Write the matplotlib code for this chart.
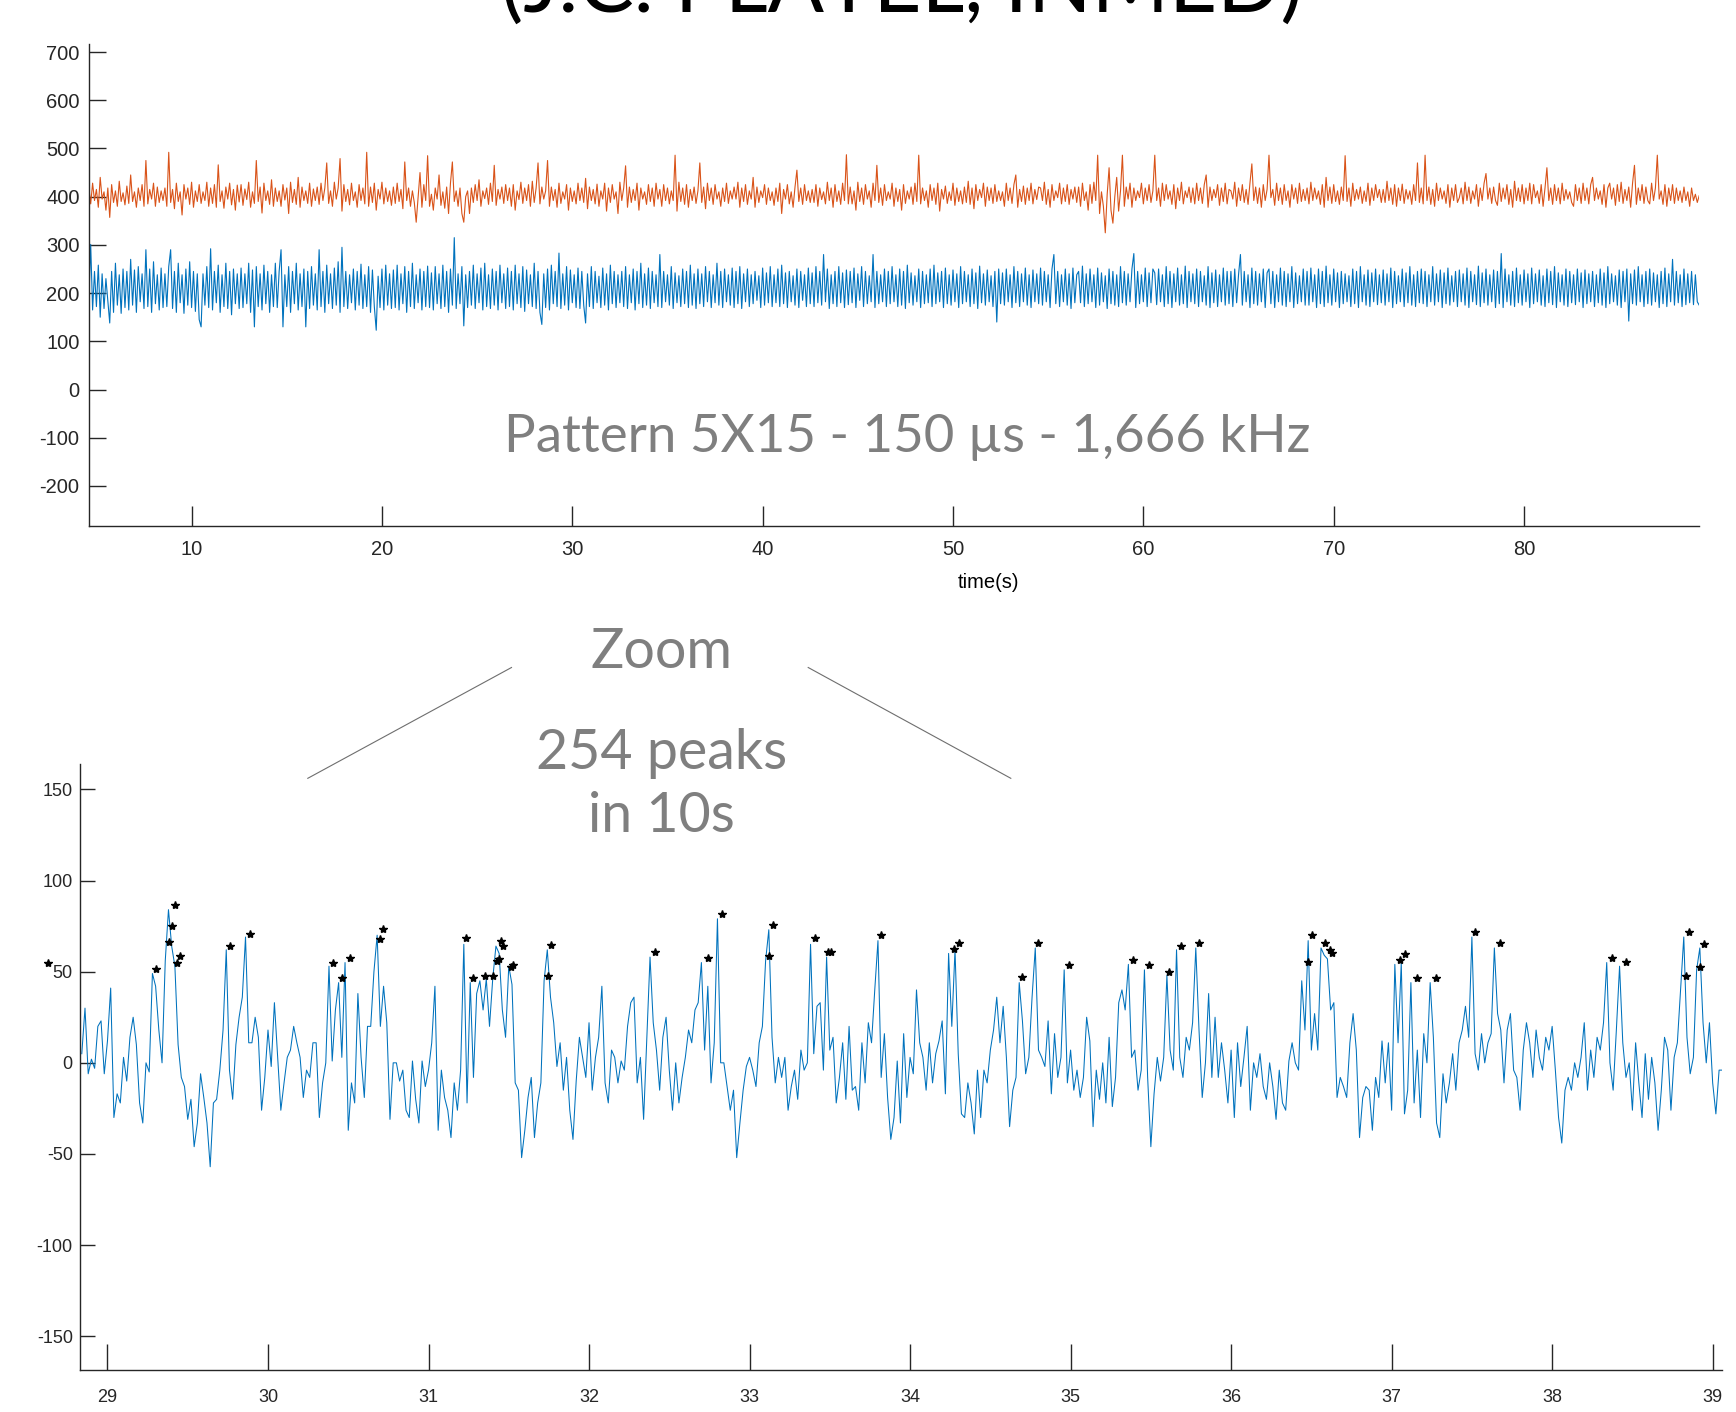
import matplotlib.pyplot as plt
import numpy as np
from matplotlib.lines import Line2D

# top panel: two channels, one value every 0.1 s starting at 4.6 s
top_start, top_step = 4.6, 0.1
orange_vals = [
    420, 385, 428, 392, 415, 378, 440, 395, 410, 372, 418, 357, 425, 388, 412, 380, 432, 390, 408, 383,
    422, 386, 445, 390, 410, 378, 418, 392, 425, 380, 475, 385, 415, 395, 428, 380, 420, 388, 412, 392,
    418, 380, 492, 388, 415, 375, 428, 390, 410, 362, 425, 395, 418, 384, 430, 378, 412, 390, 425, 386,
    410, 392, 430, 380, 418, 386, 425, 378, 466, 390, 412, 376, 420, 395, 428, 383, 415, 372, 424, 389,
    425, 382, 416, 394, 430, 378, 410, 386, 475, 390, 420, 366, 428, 392, 412, 384, 435, 380, 418, 390,
    412, 380, 425, 393, 418, 365, 430, 388, 415, 384, 440, 378, 420, 392, 412, 386, 428, 380, 416, 392,
    420, 384, 428, 392, 418, 470, 386, 412, 380, 430, 395, 418, 479, 370, 425, 390, 415, 383, 428, 392,
    410, 378, 425, 392, 418, 385, 492, 380, 420, 388, 428, 372, 415, 395, 430, 385, 418, 390, 412, 382,
    420, 386, 428, 390, 415, 375, 472, 392, 418, 380, 412, 388, 347, 400, 450, 378, 425, 392, 485, 380,
    405, 372, 418, 395, 445, 382, 410, 376, 420, 365, 428, 472, 390, 412, 380, 418, 365, 347, 400, 412,
    365, 418, 388, 425, 392, 435, 380, 412, 396, 418, 384, 428, 390, 465, 382, 415, 395, 420, 386, 425,
    392, 418, 380, 425, 372, 412, 394, 430, 386, 418, 392, 425, 380, 432, 388, 418, 470, 385, 420, 395,
    412, 475, 380, 420, 392, 415, 378, 428, 386, 410, 395, 425, 372, 418, 390, 412, 385, 428, 392, 418,
    388, 438, 375, 420, 392, 415, 385, 426, 380, 412, 395, 428, 370, 418, 388, 425, 395, 410, 365, 430,
    392, 418, 464, 378, 420, 388, 415, 392, 428, 372, 418, 395, 410, 384, 425, 390, 418, 380, 428, 395,
    415, 380, 425, 392, 418, 385, 412, 392, 486, 370, 430, 390, 418, 384, 425, 378, 415, 392, 420, 386,
    412, 470, 388, 420, 375, 428, 392, 418, 384, 425, 395, 410, 380, 418, 390, 428, 386, 412, 395, 420,
    395, 430, 378, 418, 390, 425, 384, 412, 395, 440, 378, 420, 388, 412, 398, 425, 384, 418, 392, 410,
    382, 418, 390, 428, 365, 415, 395, 425, 385, 410, 378, 420, 455, 390, 418, 384, 425, 392, 412, 388,
    415, 388, 425, 380, 418, 394, 410, 385, 430, 392, 418, 378, 425, 390, 412, 384, 428, 392, 487, 385,
    420, 385, 412, 372, 430, 390, 418, 384, 425, 395, 412, 378, 428, 392, 465, 388, 418, 382, 425, 392,
    410, 395, 428, 380, 418, 390, 415, 372, 425, 386, 412, 395, 420, 384, 428, 390, 486, 385, 418, 392,
    412, 378, 425, 392, 418, 384, 428, 370, 415, 395, 422, 386, 410, 392, 428, 382, 418, 390, 412, 385,
    420, 388, 432, 384, 418, 375, 425, 392, 415, 398, 428, 380, 420, 392, 418, 386, 425, 390, 412, 392,
    410, 380, 428, 392, 418, 386, 425, 445, 378, 415, 390, 422, 384, 418, 392, 428, 385, 415, 394, 420,
    418, 392, 430, 384, 415, 378, 425, 392, 412, 398, 428, 385, 418, 390, 425, 384, 415, 395, 420, 388,
    420, 380, 428, 392, 410, 372, 425, 386, 430, 392, 486, 365, 410, 380, 325, 405, 460, 372, 345, 400,
    440, 370, 412, 486, 380, 420, 395, 428, 378, 418, 392, 412, 398, 428, 385, 418, 392, 425, 388, 412,
    486, 392, 418, 380, 428, 392, 425, 395, 412, 384, 425, 375, 418, 392, 430, 385, 412, 398, 420, 388,
    418, 385, 428, 392, 418, 386, 425, 445, 378, 420, 392, 415, 398, 425, 382, 418, 390, 428, 385, 415,
    412, 395, 430, 380, 418, 392, 425, 388, 415, 384, 428, 468, 392, 420, 386, 418, 378, 425, 392, 415,
    486, 398, 415, 382, 428, 392, 418, 384, 425, 392, 412, 378, 425, 395, 418, 386, 428, 390, 415, 392,
    418, 385, 430, 392, 418, 395, 412, 384, 425, 378, 440, 392, 420, 386, 425, 390, 412, 384, 420, 392,
    485, 390, 418, 380, 428, 392, 415, 395, 420, 386, 412, 390, 428, 382, 418, 392, 425, 398, 415, 388,
    415, 388, 432, 392, 418, 384, 425, 380, 418, 392, 426, 386, 415, 395, 412, 384, 425, 392, 470, 388,
    418, 385, 486, 392, 420, 384, 415, 380, 428, 392, 418, 395, 412, 386, 425, 378, 418, 392, 425, 388,
    398, 418, 385, 430, 392, 420, 386, 412, 395, 425, 380, 418, 392, 428, 448, 395, 418, 386, 420, 392,
    382, 428, 390, 418, 395, 425, 384, 415, 378, 432, 392, 418, 390, 425, 385, 418, 392, 428, 385, 425,
    398, 412, 386, 425, 380, 418, 460, 392, 418, 384, 425, 392, 418, 385, 428, 392, 415, 395, 410, 388,
    380, 425, 392, 418, 386, 428, 392, 418, 385, 425, 440, 392, 418, 395, 412, 384, 425, 378, 418, 428,
    395, 418, 382, 425, 390, 430, 386, 415, 392, 420, 378, 428, 465, 384, 418, 392, 425, 386, 420, 392,
    385, 428, 392, 418, 486, 395, 412, 384, 425, 380, 418, 392, 425, 386, 418, 392, 412, 388, 420, 392,
    410, 380, 418, 392, 405, 388, 402,
]
blue_vals = [
    180, 301, 165, 245, 172, 258, 150, 240, 168, 230, 185, 138, 245, 160, 262, 175, 238, 158, 250, 170,
    245, 165, 270, 175, 248, 160, 255, 182, 240, 168, 290, 172, 250, 160, 265, 178, 238, 165, 252, 170,
    240, 172, 255, 290, 168, 245, 160, 262, 180, 238, 158, 250, 175, 265, 170, 245, 162, 240, 145, 130,
    240, 175, 255, 170, 292, 165, 245, 180, 258, 160, 238, 172, 262, 168, 245, 155, 250, 178, 240, 168,
    252, 170, 240, 178, 262, 160, 248, 130, 255, 172, 240, 165, 258, 178, 245, 160, 238, 172, 262, 170,
    245, 290, 130, 238, 172, 255, 160, 245, 178, 262, 165, 240, 172, 250, 130, 245, 168, 255, 175, 240,
    165, 290, 172, 245, 160, 258, 178, 240, 168, 252, 175, 265, 160, 295, 172, 245, 168, 238, 180, 250,
    165, 245, 175, 260, 168, 238, 172, 255, 160, 248, 172, 123, 235, 170, 250, 165, 258, 175, 240, 168,
    248, 170, 258, 165, 240, 178, 255, 160, 245, 172, 262, 168, 238, 180, 250, 165, 245, 172, 256, 170,
    242, 165, 255, 178, 240, 168, 258, 172, 245, 160, 250, 175, 315, 168, 240, 178, 255, 132, 238, 170,
    245, 175, 258, 168, 240, 180, 252, 165, 262, 172, 238, 168, 250, 175, 245, 165, 258, 180, 240, 168,
    252, 172, 245, 165, 258, 178, 240, 170, 255, 162, 248, 178, 238, 172, 262, 168, 245, 160, 135, 240,
    170, 250, 165, 258, 178, 245, 172, 283, 168, 240, 175, 255, 165, 248, 180, 238, 170, 252, 168, 245,
    175, 138, 240, 172, 255, 168, 245, 180, 235, 170, 252, 175, 240, 165, 258, 178, 245, 170, 238, 180,
    245, 172, 255, 168, 238, 180, 250, 165, 245, 178, 262, 170, 240, 175, 252, 168, 245, 180, 238, 172,
    280, 170, 245, 182, 238, 175, 255, 168, 242, 180, 236, 172, 250, 178, 245, 170, 258, 175, 240, 168,
    250, 178, 240, 172, 255, 182, 245, 170, 238, 180, 262, 175, 245, 170, 250, 182, 238, 175, 252, 170,
    245, 178, 255, 168, 240, 182, 250, 172, 238, 178, 245, 185, 236, 170, 252, 175, 242, 180, 255, 172,
    238, 180, 250, 172, 258, 178, 242, 170, 245, 182, 236, 175, 250, 170, 245, 185, 238, 172, 252, 178,
    242, 172, 255, 180, 245, 175, 280, 182, 250, 168, 238, 178, 245, 172, 255, 180, 242, 170, 248, 176,
    245, 180, 252, 170, 240, 185, 255, 172, 245, 178, 236, 182, 280, 170, 245, 178, 238, 182, 250, 172,
    245, 178, 255, 182, 238, 172, 250, 175, 245, 168, 258, 180, 242, 175, 236, 182, 250, 170, 245, 178,
    238, 180, 250, 172, 258, 178, 242, 182, 245, 170, 252, 178, 238, 175, 248, 182, 240, 170, 255, 178,
    245, 182, 238, 172, 250, 178, 242, 168, 256, 180, 240, 175, 248, 182, 236, 172, 245, 140, 250, 178,
    242, 175, 250, 182, 238, 170, 255, 180, 245, 172, 240, 182, 252, 175, 238, 170, 248, 182, 240, 178,
    252, 175, 245, 182, 238, 170, 250, 280, 178, 245, 172, 238, 182, 250, 175, 240, 168, 252, 180, 238,
    245, 180, 256, 172, 240, 178, 250, 182, 238, 170, 252, 175, 242, 182, 236, 168, 250, 178, 245, 175,
    238, 172, 255, 180, 245, 175, 240, 182, 250, 282, 170, 245, 178, 238, 182, 252, 172, 242, 180, 250,
    242, 176, 250, 182, 238, 172, 255, 178, 245, 170, 240, 182, 252, 175, 238, 178, 256, 170, 245, 182,
    240, 178, 250, 172, 245, 182, 236, 175, 255, 170, 242, 180, 248, 172, 238, 182, 252, 175, 245, 178,
    245, 172, 250, 180, 238, 280, 175, 245, 182, 238, 170, 252, 178, 245, 175, 240, 182, 250, 170, 242,
    250, 178, 245, 170, 238, 182, 252, 175, 245, 172, 240, 182, 255, 170, 242, 178, 236, 182, 250, 175,
    245, 175, 252, 182, 238, 170, 250, 178, 245, 172, 256, 180, 238, 175, 250, 182, 242, 170, 245, 178,
    240, 182, 236, 172, 250, 178, 245, 170, 255, 182, 238, 175, 248, 172, 242, 182, 250, 176, 238, 180,
    248, 175, 240, 182, 252, 170, 245, 178, 236, 182, 250, 172, 242, 180, 255, 175, 238, 172, 245, 180,
    250, 178, 245, 172, 238, 182, 255, 175, 240, 182, 248, 170, 242, 178, 252, 175, 236, 182, 245, 172,
    248, 182, 240, 175, 252, 170, 245, 182, 238, 176, 256, 172, 242, 180, 250, 175, 238, 182, 248, 170,
    245, 178, 282, 170, 250, 182, 238, 175, 245, 172, 252, 180, 238, 175, 248, 182, 240, 170, 252, 178,
    240, 182, 248, 175, 236, 172, 250, 180, 245, 176, 255, 170, 242, 182, 238, 175, 250, 172, 245, 180,
    238, 176, 250, 182, 242, 170, 248, 178, 240, 182, 245, 172, 238, 180, 250, 175, 242, 170, 255, 178,
    240, 182, 236, 175, 248, 170, 245, 182, 250, 142, 240, 178, 248, 175, 255, 182, 238, 172, 245, 178,
    250, 175, 242, 182, 238, 170, 245, 178, 252, 172, 240, 182, 270, 175, 245, 180, 238, 172, 250, 176,
    240, 180, 245, 176, 238, 182, 175,
]

# zoom panel: one value every 0.02 s starting at 28.84 s
zoom_start, zoom_step = 28.84, 0.02
zoom_vals = [
    5, 30, -6, 2, -3, 20, 23, -6, 12, 41,
    -30, -17, -22, 3, -10, 14, 25, 10, -22, -33,
    0, -5, 49, 42, 18, 0, 56, 84, 64, 53,
    10, -8, -13, -31, -20, -46, -33, -6, -19, -33,
    -57, -22, -20, -4, 18, 62, -4, -20, 10, 25,
    36, 69, 11, 11, 25, 14, -26, -8, 18, -2,
    33, 3, -26, -11, 3, 7, 20, 11, 3, -19,
    -4, -8, 11, 11, -30, -11, 0, 53, 1, 29,
    44, 3, 55, -37, -11, -22, 38, 3, -19, 20,
    20, 50, 70, 20, 42, 22, -31, 0, 0, -10,
    -4, -26, -30, 1, -20, -33, 1, -13, -4, 11,
    42, -37, -4, -19, -26, -41, -11, -26, -4, 65,
    -22, 44, -8, 38,
    45, 29, 46, 20, 46, 64,
    60, 29, 14, 53, 43, -11, -15, -52, -37, -19,
    -8, -41, -22, -11, 45, 62, 36, 22, -2, 11,
    -15, 3, -26, -42, -10, 14, 3, -8, 22, -15,
    3, 14, 42, -11, -22, 7, 3, -11, 1, -4,
    20, 33, 36, -11, 3, -31, 14, 58, 22, 7,
    -15, 14, 25, -4, -26, 0, -22, -8, 3, 18,
    11, 29, 33, 55, 7, 42, -11, 11, 79, 0,
    0, -13, -26, -15, -52, -33, -15, -2, 3, -4,
    -13, 11, 20, 56, 73, 14, -11, 3, -8, 3,
    -26, -13, -4, -20, 7, -4, 0, 65, 5, 31,
    33, -4, 58, 7, 14, -22, -8, 11, -20, 20,
    -15, -13, -26, 11, -11, 22, 11, 40, 67, -8,
    16, -19,
    -42, -30, 1, -33, 16, -19, 3, -6,
    40, 11, 3, -15, 11, -11, 5, 12, 23, -17,
    60, 20, 62, 5, -28, -30, -11, -22, -39, -4,
    -30, -4, -11, 7, 18, 36, 11, 31, 3, -35,
    -15, -8, 44, 23, -6, 3, 36, 63, 7, 3,
    -2, 23, -17, 16, -8, 3, 51, -11, 7, -15,
    -4, -19, -8, 25, 12, -35, -4, -20, 0, -22,
    14, -24, -8, 33, 40, 29, 54, 3, 7, -15,
    -4, 51, -8, -46, -17, 3, -10, 3, 48, 7,
    -4, 62, 3, -8, 14, 7, 22, 63, 18, -19,
    0, 38, -8, 25, -8, 11, -4, -22, 7, -30,
    11, -13, 3, 20, -26, 0, -8, 5, -13, -20,
    0, -13, -31, -4, -22, -26, 1, 11, 0, -4,
    45, 18, 67, 7, 27, 7, 63, 59, 57, 29,
    33, -19, -8, -13, -19, 11, 27, 7, -41, -19,
    -13, -15, -37, -8, -19, 12, -11, 11, -26, 54,
    11, 55, -28, -15, 44, -22, 7, -30, 16, 0,
    44, 14, -33, -41, -6, -22, -11, 5, -15, 11,
    18, 31, 14, 69, 5, -4, 16, 0, 11, 16,
    63, 27, 18, -11, 18, 27, -4, -8, -26, 7,
    22, 11, -8, 18, 3, -4, 14, 7, 20, -4,
    -30, -44, -15, -8, -15, 0, -8, 3, 22, -15,
    7, -8, 14, 7, 22, 55, 0, -15, 18, 53,
    11, -8, 0, -26, 11, -11, -30, 5, -20, 3,
    -11, -37, -15, 14, 7, -26, 3, 11, 40, 69,
    14, -6, 3, 51, 63, 22, 0, 22, -11, -28,
    -4, -4,
]

# detected peaks (stars)
peak_t = [28.63, 29.303, 29.386, 29.403, 29.421, 29.436, 29.452, 29.764, 29.889,
          30.408, 30.460, 30.512, 30.695, 30.715, 31.232, 31.280, 31.353,
          31.400, 31.425, 31.439, 31.450, 31.466, 31.514, 31.525, 31.747, 31.761,
          32.411, 32.740, 32.831, 33.124, 33.149, 33.408, 33.491, 33.508, 33.818,
          34.271, 34.306, 34.696, 34.794, 34.989, 35.386, 35.486, 35.612, 35.687,
          35.799, 36.482, 36.507, 36.582, 36.617, 36.631, 37.051, 37.082, 37.159,
          37.275, 37.520, 37.676, 38.374, 38.457, 38.833, 38.852, 38.924, 38.945]
peak_v = [55, 51.6, 66.2, 75.0, 86.5, 54.5, 58.7, 64.0, 70.4,
          54.9, 46.3, 57.6, 67.7, 73.4, 68.2, 46.3, 47.7,
          47.6, 56.0, 56.7, 67.0, 64.0, 52.3, 53.6, 47.6, 64.6,
          60.9, 57.3, 81.6, 58.7, 75.6, 68.2, 60.9, 60.9, 70.1,
          62.2, 65.5, 47.2, 65.5, 53.6, 56.3, 53.6, 49.9, 64.0,
          65.5, 55.4, 70.1, 65.5, 61.8, 60.0, 56.3, 59.6, 46.8,
          46.8, 71.9, 65.5, 57.3, 55.1, 47.6, 71.9, 52.7, 65.1]

top_xticks = [10, 20, 30, 40, 50, 60, 70, 80]
top_yticks = [-200, -100, 0, 100, 200, 300, 400, 500, 600, 700]
zoom_xticks = [29, 30, 31, 32, 33, 34, 35, 36, 37, 38, 39]
zoom_yticks = [-150, -100, -50, 0, 50, 100, 150]

tick_font = ['Liberation Sans', 'DejaVu Sans']
note_font = ['Lato', 'DejaVu Sans']
ax_col = '#262626'
grey = '#7f7f7f'
orange = '#D95319'
blue = '#0072BD'

W, H = 1736, 1412
fig = plt.figure(figsize=(W / 100, H / 100), dpi=100)


def style_axes(ax, xlen, ylen, xpad, ypad, size):
    for s in ['top', 'right']:
        ax.spines[s].set_visible(False)
    for s in ['left', 'bottom']:
        ax.spines[s].set_color(ax_col)
        ax.spines[s].set_linewidth(1.0)
    ax.tick_params(axis='x', direction='in', length=xlen, width=1.0, color=ax_col,
                   labelcolor=ax_col, labelsize=size, pad=xpad)
    ax.tick_params(axis='y', direction='in', length=ylen, width=1.0, color=ax_col,
                   labelcolor=ax_col, labelsize=size, pad=ypad)
    for lab in ax.get_xticklabels() + ax.get_yticklabels():
        lab.set_family(tick_font)


# top panel
ax1 = fig.add_axes([88.6 / W, 1 - 526 / H, (1699 - 88.6) / W, (526 - 44) / H])
top_t = top_start + top_step * np.arange(len(orange_vals))
ax1.plot(top_t, orange_vals, color=orange, lw=0.8)
ax1.plot(top_t, blue_vals, color=blue, lw=0.8)
ax1.set_xlim(4.59, 89.19)
ax1.set_ylim(-283, 716.6)
ax1.set_xticks(top_xticks)
ax1.set_yticks(top_yticks)
ax1.set_yticklabels([str(v) for v in top_yticks])
style_axes(ax1, 14.5, 12, 10, 6.5, 14.5)

# zoom panel
ax2 = fig.add_axes([79.7 / W, 1 - 1369.5 / H, (1721.5 - 79.7) / W, (1369.5 - 764) / H])
zoom_t = zoom_start + zoom_step * np.arange(len(zoom_vals))
ax2.plot(zoom_t, zoom_vals, color=blue, lw=0.75)
ax2.plot(peak_t, peak_v, ls='none', marker='*', ms=6, color='black', clip_on=False)
ax2.set_xlim(28.827, 39.055)
ax2.set_ylim(-168.2, 163.9)
ax2.set_xticks(zoom_xticks)
ax2.set_yticks(zoom_yticks)
ax2.set_yticklabels([str(v) for v in zoom_yticks])
style_axes(ax2, 19, 11, 14, 5, 13)

# texts
fig.text(988.6 / W, 1 - 582 / H, 'time(s)', ha='center', va='center', fontsize=14.5,
         color='black', family=tick_font)
fig.text(902 / W, 1 - 13 / H, '(J.C. PLATEL, INMED)', ha='center', va='baseline',
         fontsize=60, color='black', family=note_font)
fig.text(907 / W, 1 - 452 / H, 'Pattern 5X15 - 150 µs - 1,666 kHz', ha='center',
         va='baseline', fontsize=38, color=grey, family=note_font)
fig.text(661.5 / W, 1 - 667.5 / H, 'Zoom', ha='center', va='baseline', fontsize=40,
         color=grey, family=note_font)
fig.text(661.5 / W, 1 - 769 / H, '254 peaks', ha='center', va='baseline', fontsize=40,
         color=grey, family=note_font)
fig.text(661.5 / W, 1 - 832.5 / H, 'in 10s', ha='center', va='baseline', fontsize=40,
         color=grey, family=note_font)

# zoom guide lines
fig.add_artist(Line2D([511.5 / W, 307.8 / W], [1 - 667.5 / H, 1 - 778.3 / H],
                      transform=fig.transFigure, color='#6e6e6e', lw=0.8))
fig.add_artist(Line2D([808.2 / W, 1010.8 / W], [1 - 667.5 / H, 1 - 778.3 / H],
                      transform=fig.transFigure, color='#6e6e6e', lw=0.8))

fig.savefig('out.png', dpi=100)
